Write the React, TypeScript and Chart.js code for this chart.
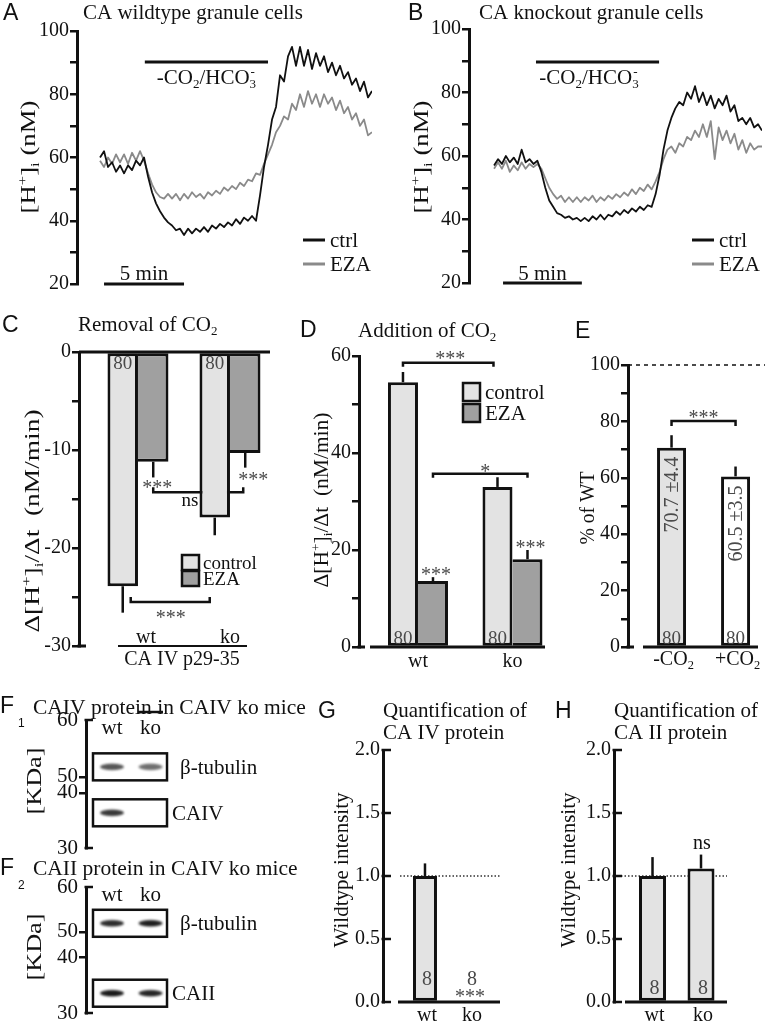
import React, { useEffect, useRef } from 'react';
import { Chart, registerables } from 'chart.js';

Chart.register(...registerables);

const W = 765;
const CH = 1060;
const SERIF = '"Liberation Serif", "Times New Roman", Times, serif';
const SANS = '"Liberation Sans", Arial, Helvetica, sans-serif';
const INK = '#111111';
const TRACE_GREY = '#8a8a8a';
const LIGHT = '#e3e3e3';
const MID = '#a0a0a0';
const NOTE = '#4a4a4a';

Chart.defaults.font.family = SERIF;

// ---------------- A / B : [H+]i recordings (minutes vs nM) ----------------
const traceTimes = [0, 0.25, 0.5, 0.75, 1, 1.25, 1.5, 1.75, 2, 2.25, 2.5, 2.75, 3, 3.25, 3.5, 3.75, 4, 4.25, 4.5, 4.75, 5, 5.25, 5.5, 5.75, 6, 6.25, 6.5, 6.75, 7, 7.25, 7.5, 7.75, 8, 8.25, 8.5, 8.75, 9, 9.25, 9.5, 9.75, 10, 10.25, 10.5, 10.75, 11, 11.25, 11.5, 11.75, 12, 12.25, 12.5, 12.75, 13, 13.25, 13.5, 13.75, 14, 14.25, 14.5, 14.75, 15, 15.25, 15.5, 15.75, 16, 16.25, 16.5, 16.75, 17];
const wtCtrl = [60, 62, 57, 58.5, 55.5, 57.5, 55, 57.5, 56, 59, 57.5, 60, 54, 49, 45.5, 43, 41, 39.5, 38.5, 37, 37.5, 35.5, 37.5, 36, 37.5, 36.5, 38, 36.5, 38.5, 37.5, 39, 38, 39.5, 38.5, 40.5, 39, 41, 40, 41.5, 40, 48, 57, 64, 72, 76, 86, 84, 92, 95, 89, 95, 89, 94, 88, 93, 89, 92, 87, 90, 86, 89, 85, 87, 83, 85, 81, 84, 79, 81];
const wtEza = [59, 57, 60, 58, 61, 58.5, 61, 58, 61.5, 59, 62, 59, 55, 51.5, 49, 47.5, 47, 48.5, 47, 48.5, 46.5, 48.5, 47, 49, 47.5, 48.5, 47, 49, 48, 49.5, 48.5, 50.5, 49.5, 51, 50, 52, 51, 53, 52.5, 55, 54.5, 58, 61, 64, 68, 70, 73, 72, 77, 75, 80, 76, 81, 77, 80, 76, 80, 77, 79, 75, 78, 74, 76, 72, 74, 70, 72, 67, 68];
const koCtrl = [57, 59, 57.5, 60, 58, 59.5, 57.5, 62, 58, 59, 57.5, 58.5, 55, 50, 46, 44, 42, 41.5, 40.5, 41, 40, 40.5, 39.5, 40.5, 39.5, 41, 40, 41.5, 40, 41.5, 41, 42.5, 41.5, 43, 42, 43.5, 42.5, 44, 43, 44.5, 44, 48, 54, 62, 68, 72, 75, 77, 76, 80, 78, 82, 77, 80, 76, 79, 75, 78, 76, 79, 74, 76, 71, 72, 70, 72, 69, 70, 68];
const koEza = [56, 58, 56, 58.5, 55, 57, 55.5, 58, 56, 57.5, 56.5, 57.5, 56, 53, 50, 48, 46.5, 47.5, 45.5, 47, 45.5, 47, 45.5, 47, 46, 47.5, 45.5, 47, 46, 47.5, 46.5, 48, 47, 48.5, 47.5, 49.5, 48, 50, 49, 51, 49.5, 52, 55, 59, 62, 63, 61, 64, 63, 66, 65, 68, 66, 70, 66, 71, 59, 69, 65, 68, 64, 67, 62, 65, 61, 64, 62, 63, 63];
const hLabelled = [20, 40, 60, 80, 100];
const washoutWt = [2.8, 10.5];
const washoutKo = [2.66, 10.47];
const scaleBarMinutes = 5;
const traceSeries = ['ctrl', 'EZA'];

// ---------------- C : removal of CO2 ----------------
const genotypes = ['wt', 'ko'];
const removalControl = [-23.9, -16.9];
const removalControlSem = [2.7, 1.8];
const removalEza = [-11.2, -10.3];
const removalEzaSem = [1.6, 1.5];
const removalN = [80, 80];
const removalLabelled = [0, -10, -20, -30];

// ---------------- D : addition of CO2 ----------------
const additionControl = [54.6, 33.0];
const additionControlSem = [2.1, 2.0];
const additionEza = [13.6, 18.1];
const additionEzaSem = [0.8, 1.9];
const additionN = [80, 80];
const additionLabelled = [0, 20, 40, 60];

// ---------------- E : % of WT ----------------
const co2Signs = ['-', '+'];
const koPercentWt = [70.7, 60.5];
const koPercentSem = [4.4, 3.5];
const koPercentN = [80, 80];
const percentLabelled = [0, 20, 40, 60, 80, 100];

// ---------------- F1 / F2 : western blots ----------------
const lanes = ['wt', 'ko'];
const kdaLadder = [60, 50, 40, 30];
const f1LadderPos = [0, 0.445, 0.57, 1];
const f2LadderPos = [0, 0.357, 0.556, 1];
const f1Bands = ['β-tubulin', 'CAIV'];
const f1BandPos = [0.366, 0.725];
const f1Tubulin = [0.72, 0.62];
const f1Caiv = [0.85, 0];
const f2Bands = ['β-tubulin', 'CAII'];
const f2BandPos = [0.288, 0.843];
const f2Tubulin = [0.9, 0.96];
const f2Caii = [0.98, 0.93];

// ---------------- G / H : quantification ----------------
const caivRel = [1.0, 0.0];
const caivSem = [0.1, 0];
const caiiRel = [1.0, 1.06];
const caiiSem = [0.15, 0.11];
const blotN = [8, 8];
const intensityLabelled = [0, 0.5, 1, 1.5, 2];

// ---------------- drawing helpers ----------------
type Part = [string, number];
const t = (s: string): Part[] => [[s, 0]];
const hTitle: Part[] = [['[H', 0], ['+', 1], [']', 0], ['i', -1], [' (nM)', 0]];
const dhTitle: Part[] = [['Δ[H', 0], ['+', 1], [']', 0], ['i', -1], ['/Δt  (nM/min)', 0]];
const co2Parts: Part[] = [['-CO', 0], ['2', -1], ['/HCO', 0], ['3', -1], ['-', 2]];

function rich(ctx: any, parts: Part[], x: number, y: number, size: number, o: any = {}) {
  const fam = o.family || SERIF;
  const small = size * 0.62;
  ctx.save();
  const widths = parts.map(([s, k]) => {
    ctx.font = `${k ? small : size}px ${fam}`;
    return k === 2 ? 0 : ctx.measureText(s).width;
  });
  const total = widths.reduce((a: number, b: number) => a + b, 0);
  ctx.translate(x, y);
  if (o.rot) ctx.rotate(-Math.PI / 2);
  const sx = o.target ? o.target / total : 1;
  ctx.scale(sx, 1);
  const align = o.align || 'center';
  let cx = align === 'center' ? -total / 2 : align === 'right' ? -total : 0;
  let prevX = cx;
  ctx.textAlign = 'left';
  ctx.textBaseline = 'alphabetic';
  ctx.fillStyle = o.color || INK;
  const base = size * 0.33;
  parts.forEach(([s, k], i) => {
    ctx.font = `${k ? small : size}px ${fam}`;
    if (k === 2) {
      ctx.fillText(s, prevX + 1, base - size * 0.42);
      return;
    }
    const dy = k === 1 ? -size * 0.4 : k === -1 ? size * 0.2 : 0;
    ctx.fillText(s, cx, base + dy);
    prevX = cx;
    cx += widths[i];
  });
  ctx.restore();
}

function stars(ctx: any, s: string, x: number, y: number) {
  rich(ctx, t(s), x, y + 4, 20, { color: NOTE });
}

function letter(ctx: any, s: string, x: number, baseline: number, sub?: string) {
  ctx.save();
  ctx.font = `23px ${SANS}`;
  ctx.fillStyle = INK;
  ctx.textAlign = 'left';
  ctx.textBaseline = 'alphabetic';
  ctx.fillText(s, x, baseline);
  if (sub) {
    ctx.font = `12px ${SANS}`;
    ctx.fillText(sub, x + 18, baseline + 14);
  }
  ctx.restore();
}

function seg(ctx: any, x1: number, y1: number, x2: number, y2: number, w = 2.5, color = INK, dash: number[] = []) {
  ctx.save();
  ctx.strokeStyle = color;
  ctx.lineWidth = w;
  ctx.setLineDash(dash);
  ctx.lineCap = 'butt';
  ctx.beginPath();
  ctx.moveTo(x1, y1);
  ctx.lineTo(x2, y2);
  ctx.stroke();
  ctx.restore();
}

function bracket(ctx: any, x1: number, x2: number, y: number, leg: number, w = 2.5) {
  ctx.save();
  ctx.strokeStyle = INK;
  ctx.lineWidth = w;
  ctx.beginPath();
  ctx.moveTo(x1, y + leg);
  ctx.lineTo(x1, y);
  ctx.lineTo(x2, y);
  ctx.lineTo(x2, y + leg);
  ctx.stroke();
  ctx.restore();
}

function box(ctx: any, x: number, y: number, w: number, h: number, fill: string | null, lw = 2.5) {
  ctx.save();
  if (fill) {
    ctx.fillStyle = fill;
    ctx.fillRect(x, y, w, h);
  }
  ctx.strokeStyle = INK;
  ctx.lineWidth = lw;
  ctx.strokeRect(x, y, w, h);
  ctx.restore();
}

function semBars(chart: any, di: number, sem: number[], w = 2.5) {
  const ys = chart.scales.y;
  const meta = chart.getDatasetMeta(di);
  const data = chart.data.datasets[di].data;
  meta.data.forEach((el: any, i: number) => {
    if (!sem[i]) return;
    const v = data[i].y;
    const tip = v + (v < 0 ? -sem[i] : sem[i]);
    seg(chart.ctx, el.x, ys.getPixelForValue(v), el.x, ys.getPixelForValue(tip), w);
  });
}

function base(l: number, top: number, r: number, b: number, yw: number) {
  return {
    responsive: false,
    maintainAspectRatio: false,
    animation: false,
    events: [],
    layout: { autoPadding: false, padding: { left: l - yw, top, right: W - r, bottom: CH - b } },
    plugins: { legend: { display: false }, tooltip: { enabled: false }, title: { display: false } },
  };
}

function valueAxis(o: any) {
  return {
    type: 'linear',
    min: o.min,
    max: o.max,
    border: { display: true, color: INK, width: 3 },
    grid: {
      display: true,
      drawOnChartArea: false,
      drawTicks: true,
      tickLength: o.tickLen ?? 7,
      color: o.inward ? 'rgba(0,0,0,0)' : INK,
      lineWidth: 2.5,
    },
    ticks: {
      stepSize: o.step,
      autoSkip: false,
      padding: 1,
      color: INK,
      font: { family: SERIF, size: o.size ?? 20 },
      callback: (v: number) =>
        o.labelled.some((l: number) => Math.abs(l - v) < 1e-6) ? (o.fmt ? o.fmt(v) : String(v)) : '',
    },
    afterFit: (s: any) => {
      s.width = o.yw;
    },
  };
}

function indexAxis(min: number, max: number, n: number) {
  return {
    type: 'linear',
    display: false,
    offset: false,
    grid: { offset: false },
    min,
    max,
    afterBuildTicks: (s: any) => {
      s.ticks = Array.from({ length: n }, (_, i) => ({ value: i }));
    },
  };
}

function barSet(label: string, values: number[], fill: any, catPct: number, leftBorder = true) {
  return {
    label,
    data: values.map((v, i) => ({ x: i, y: v })),
    backgroundColor: fill,
    borderColor: INK,
    borderWidth: { top: 3, right: 3, bottom: 3, left: leftBorder ? 3 : 0 },
    borderSkipped: false,
    barPercentage: 1,
    categoryPercentage: catPct,
  };
}

// ---------------- A / B ----------------
function traceConfig(p: any) {
  const YW = 60;
  return {
    type: 'line',
    data: {
      datasets: [p.ctrl, p.eza].map((vals: number[], k: number) => ({
        label: traceSeries[k],
        data: traceTimes.map((tm, i) => ({ x: tm, y: vals[i] })),
        borderColor: k === 0 ? INK : TRACE_GREY,
        borderWidth: 1.8,
        borderJoinStyle: 'round',
        pointRadius: 0,
        tension: 0,
        fill: false,
      })),
    },
    options: {
      ...base(p.L, p.T, p.R, p.B, YW),
      scales: {
        x: { type: 'linear', display: false, min: p.xmin, max: 17 },
        y: valueAxis({ min: 20, max: 100, step: 10, labelled: hLabelled, yw: YW, tickLen: 7 }),
      },
    },
    plugins: [
      {
        id: 'trace' + p.letter,
        afterDraw(chart: any) {
          const { ctx } = chart;
          const x = chart.scales.x;
          letter(ctx, p.letter, p.letterX, 20);
          rich(ctx, t(p.title), p.titleX, 12, 21, { align: 'left' });
          rich(ctx, hTitle, p.yTitleX, 157, 20, { rot: true, target: 113 });
          const w0 = x.getPixelForValue(p.washout[0]);
          const w1 = x.getPixelForValue(p.washout[1]);
          seg(ctx, w0, 62, w1, 62, 3);
          rich(ctx, co2Parts, p.co2X ?? (w0 + w1) / 2, 77, 21);
          const s0 = x.getPixelForValue(p.scaleStart);
          const s1 = x.getPixelForValue(p.scaleStart + scaleBarMinutes);
          const yb = chart.chartArea.bottom;
          seg(ctx, s0, yb, s1, yb, 3);
          rich(ctx, t(`${scaleBarMinutes} min`), (s0 + s1) / 2, 273, 21);
          chart.data.datasets.forEach((ds: any, i: number) => {
            const ly = 240 + i * 24;
            seg(ctx, p.legendX, ly, p.legendX + 22, ly, 3, ds.borderColor);
            rich(ctx, t(ds.label), p.legendX + 27, ly, 21, { align: 'left' });
          });
        },
      },
    ],
  };
}

const configA = () =>
  traceConfig({
    letter: 'A', letterX: 3, title: 'CA wildtype granule cells', titleX: 83, yTitleX: 28,
    L: 77, T: 31, R: 372, B: 284, xmin: -1.44, ctrl: wtCtrl, eza: wtEza,
    washout: washoutWt, scaleStart: 0.25, legendX: 303,
  });
const configB = () =>
  traceConfig({
    letter: 'B', letterX: 408, title: 'CA knockout granule cells', titleX: 479, yTitleX: 421,
    L: 469, T: 29, R: 762, B: 283, xmin: -1.59, ctrl: koCtrl, eza: koEza,
    washout: washoutKo, co2X: 589, scaleStart: 0.57, legendX: 692,
  });

// ---------------- C ----------------
function configC() {
  const L = 79, T = 352, R = 270, B = 646, YW = 60;
  return {
    type: 'bar',
    data: {
      datasets: [
        barSet('control', removalControl, LIGHT, 0.663),
        barSet('EZA', removalEza, MID, 0.663, false),
      ],
    },
    options: {
      ...base(L, T, R, B, YW),
      scales: {
        x: indexAxis(-0.641, 1.435, genotypes.length),
        y: valueAxis({ min: -30, max: 0, step: 5, labelled: removalLabelled, yw: YW }),
      },
    },
    plugins: [
      {
        id: 'decorC',
        beforeDatasetsDraw(chart: any) {
          const { ctx } = chart;
          const y = chart.scales.y;
          const eza = chart.getDatasetMeta(1).data;
          bracket(ctx, eza[0].x, eza[1].x - 2, y.getPixelForValue(-14.3), -5);
        },
        afterDatasetsDraw(chart: any) {
          const { ctx, chartArea: a } = chart;
          const x = chart.scales.x;
          const y = chart.scales.y;
          semBars(chart, 0, removalControlSem);
          semBars(chart, 1, removalEzaSem);
          const y0 = y.getPixelForValue(0);
          seg(ctx, a.left, y0, a.right, y0, 3);
          seg(ctx, a.left - 1.5, a.bottom, a.left + 7, a.bottom, 3);
          const ctl = chart.getDatasetMeta(0).data;
          const eza = chart.getDatasetMeta(1).data;
          ctl.forEach((b: any, i: number) => rich(ctx, t(String(removalN[i])), b.x, y0 + 11, 19, { color: NOTE }));
          stars(ctx, '***', eza[0].x + 4, 483);
          stars(ctx, '***', eza[1].x + 8, 475);
          rich(ctx, t('ns'), 190, 500, 19);
          bracket(ctx, ctl[0].x + 8, ctl[1].x - 5, 602, -5);
          stars(ctx, '***', (ctl[0].x + ctl[1].x) / 2 + 2, 613);
          chart.data.datasets.forEach((ds: any, i: number) => {
            const ly = 555 + i * 16;
            box(ctx, 182, ly, 17, 15, ds.backgroundColor);
            rich(ctx, t(ds.label), 203, ly + 8, 19, { align: 'left' });
          });
          genotypes.forEach((g, i) => rich(ctx, t(g), x.getPixelForValue(i) + (i === 0 ? 8 : 0), 636, 20));
          seg(ctx, 118, 646, 247, 646, 2);
          rich(ctx, t('CA IV p29-35'), 182, 658, 20);
          letter(ctx, 'C', 2, 332);
          rich(ctx, [['Removal of CO', 0], ['2', -1]], 78, 324, 21, { align: 'left' });
          rich(ctx, dhTitle, 32, 521, 20, { rot: true, target: 223 });
        },
      },
    ],
  };
}

// ---------------- D ----------------
function configD() {
  const L = 359, T = 356, R = 545, B = 647, YW = 60;
  return {
    type: 'bar',
    data: {
      datasets: [
        barSet('control', additionControl, LIGHT, 0.635),
        barSet('EZA', additionEza, MID, 0.635, false),
      ],
    },
    options: {
      ...base(L, T, R, B, YW),
      scales: {
        x: indexAxis(-0.624, 1.344, genotypes.length),
        y: valueAxis({ min: 0, max: 60, step: 10, labelled: additionLabelled, yw: YW }),
      },
    },
    plugins: [
      {
        id: 'decorD',
        afterDatasetsDraw(chart: any) {
          const { ctx, chartArea: a } = chart;
          const x = chart.scales.x;
          const y = chart.scales.y;
          semBars(chart, 0, additionControlSem);
          semBars(chart, 1, additionEzaSem);
          const y0 = y.getPixelForValue(0);
          seg(ctx, 370, y0, a.right, y0, 3);
          seg(ctx, a.left - 1.5, y0, a.left + 6, y0, 3);
          const ctl = chart.getDatasetMeta(0).data;
          const eza = chart.getDatasetMeta(1).data;
          bracket(ctx, ctl[0].x, ctl[1].x - 4, y.getPixelForValue(58.6), 4);
          stars(ctx, '***', (ctl[0].x + ctl[1].x) / 2, 354);
          bracket(ctx, eza[0].x, eza[1].x, y.getPixelForValue(35.7), 4);
          stars(ctx, '*', (eza[0].x + eza[1].x) / 2 + 5, 467);
          eza.forEach((b: any, i: number) =>
            stars(ctx, '***', b.x + 3, y.getPixelForValue(additionEza[i] + additionEzaSem[i]) - 7)
          );
          ctl.forEach((b: any, i: number) => rich(ctx, t(String(additionN[i])), b.x, y0 - 9, 19, { color: NOTE }));
          chart.data.datasets.forEach((ds: any, i: number) => {
            const ly = 383 + i * 21;
            box(ctx, 463, ly, 17, 18, ds.backgroundColor);
            rich(ctx, t(ds.label), 485, ly + 9, 21, { align: 'left' });
          });
          genotypes.forEach((g, i) => rich(ctx, t(g), x.getPixelForValue(i), 660, 20));
          letter(ctx, 'D', 300, 337);
          rich(ctx, [['Addition of CO', 0], ['2', -1]], 358, 330, 21, { align: 'left' });
          rich(ctx, dhTitle, 321, 500, 20, { rot: true, target: 175 });
        },
      },
    ],
  };
}

// ---------------- E ----------------
function configE() {
  const L = 628, T = 365, R = 765, B = 647, YW = 60;
  return {
    type: 'bar',
    data: { datasets: [barSet('% of WT', koPercentWt, [LIGHT, '#ffffff'], 0.453)] },
    options: {
      ...base(L, T, R, B, YW),
      scales: {
        x: indexAxis(-0.68, 1.46, co2Signs.length),
        y: valueAxis({ min: 0, max: 100, step: 10, labelled: percentLabelled, yw: YW }),
      },
    },
    plugins: [
      {
        id: 'decorE',
        afterDatasetsDraw(chart: any) {
          const { ctx, chartArea: a } = chart;
          const y = chart.scales.y;
          seg(ctx, a.left, y.getPixelForValue(100), W, y.getPixelForValue(100), 1.5, INK, [4, 4]);
          semBars(chart, 0, koPercentSem);
          const y0 = y.getPixelForValue(0);
          seg(ctx, 643, y0, 758, y0, 3);
          seg(ctx, a.left - 1.5, y0, a.left + 6, y0, 3);
          const bars = chart.getDatasetMeta(0).data;
          bracket(ctx, bars[0].x, bars[1].x, y.getPixelForValue(80.1), 5);
          stars(ctx, '***', (bars[0].x + bars[1].x) / 2, 413);
          bars.forEach((b: any, i: number) => {
            rich(ctx, t(`${koPercentWt[i]} ±${koPercentSem[i]}`), b.x, b.y + 47, 20, { rot: true, color: NOTE });
            rich(ctx, t(String(koPercentN[i])), b.x, y0 - 9, 19, { color: NOTE });
            rich(ctx, [[co2Signs[i] + 'CO', 0], ['2', -1]], b.x + 2, 658, 20);
          });
          letter(ctx, 'E', 575, 338);
          rich(ctx, t('% of WT'), 587, 508, 20, { rot: true, target: 73 });
        },
      },
    ],
  };
}

// ---------------- F1 / F2 ----------------
function bandSprite(density: number) {
  const c = document.createElement('canvas');
  c.width = 36;
  c.height = 18;
  const g = c.getContext('2d') as CanvasRenderingContext2D;
  if (density > 0) {
    g.filter = 'blur(1.3px)';
    g.fillStyle = `rgba(22,22,22,${density})`;
    g.beginPath();
    g.ellipse(18, 9, 12, 3.3, 0, 0, Math.PI * 2);
    g.fill();
  }
  return c;
}

function configF(which: number) {
  const one = which === 1;
  const T = one ? 720 : 887;
  const B = one ? 848 : 1013;
  const L = 86, R = 170, YW = 50;
  const ladder = one ? f1LadderPos : f2LadderPos;
  const bandPos = one ? f1BandPos : f2BandPos;
  const names = one ? f1Bands : f2Bands;
  const rows = one ? [f1Tubulin, f1Caiv] : [f2Tubulin, f2Caii];
  return {
    type: 'scatter',
    data: {
      datasets: rows.map((dens, k) => ({
        label: names[k],
        data: lanes.map((_, i) => ({ x: i, y: bandPos[k] })),
        pointStyle: dens.map((d) => bandSprite(d)),
        pointRadius: 4,
        showLine: false,
      })),
    },
    options: {
      ...base(L, T, R, B, YW),
      scales: {
        x: indexAxis(-0.675, 1.506, lanes.length),
        y: {
          type: 'linear',
          reverse: true,
          min: 0,
          max: 1,
          border: { display: true, color: INK, width: 3 },
          grid: {
            display: true,
            drawOnChartArea: false,
            drawTicks: true,
            tickLength: 7,
            lineWidth: 2.5,
            color: (c: any) => (c.index === 0 || c.index === kdaLadder.length - 1 ? 'rgba(0,0,0,0)' : INK),
          },
          afterBuildTicks: (s: any) => {
            s.ticks = ladder.map((v) => ({ value: v }));
          },
          ticks: {
            autoSkip: false,
            padding: 1,
            color: INK,
            font: { family: SERIF, size: 21 },
            callback: (_v: number, i: number) => String(kdaLadder[i]),
          },
          afterFit: (s: any) => {
            s.width = YW;
          },
        },
      },
    },
    plugins: [
      {
        id: 'decorF' + which,
        afterDraw(chart: any) {
          const { ctx, chartArea: a } = chart;
          const x = chart.scales.x;
          const y = chart.scales.y;
          const xw = x.getPixelForValue(0);
          const xk = x.getPixelForValue(1);
          bandPos.forEach((p, k) => {
            const yc = y.getPixelForValue(p);
            box(ctx, xw - 19, yc - 13.5, xk + 16.5 - (xw - 19), 27, null, 2.5);
            rich(ctx, t(names[k]), k === 0 ? 180 : 172, yc, 21, { align: 'left' });
          });
          lanes.forEach((ln, i) => rich(ctx, t(ln), x.getPixelForValue(i), a.top + 7, 21));
          seg(ctx, a.left - 1.5, a.top, a.left + 7, a.top, 2.5);
          seg(ctx, a.left - 1.5, a.bottom, a.left + 7, a.bottom, 2.5);
          letter(ctx, 'F', 0, one ? 713 : 875, one ? '1' : '2');
          rich(ctx, t(one ? 'CAIV protein in CAIV ko mice' : 'CAII protein in CAIV ko mice'), 33, one ? 707 : 868, 21.5, { align: 'left' });
          if (one) seg(ctx, 138, 712, 163, 712, 2.5);
          rich(ctx, t('[KDa]'), 34, (a.top + a.bottom) / 2 - 3, 20, { rot: true, target: 67 });
        },
      },
    ],
  };
}

// ---------------- G / H ----------------
function quantConfig(p: any) {
  const YW = 60;
  return {
    type: 'bar',
    data: { datasets: [barSet('Wildtype intensity', p.values, LIGHT, p.catPct)] },
    options: {
      ...base(p.L, 750, p.R, 1002, YW),
      scales: {
        x: indexAxis(p.xmin, p.xmax, lanes.length),
        y: valueAxis({
          min: 0, max: 2, step: 0.5, labelled: intensityLabelled, yw: YW, tickLen: 2, inward: true,
          fmt: (v: number) => v.toFixed(1),
        }),
      },
    },
    plugins: [
      {
        id: 'quant' + p.letter,
        beforeDatasetsDraw(chart: any) {
          const { ctx } = chart;
          const y = chart.scales.y;
          seg(ctx, p.dotFrom, y.getPixelForValue(1), p.R, y.getPixelForValue(1), 1.5, '#333', [1.5, 2]);
        },
        afterDatasetsDraw(chart: any) {
          const { ctx, chartArea: a } = chart;
          const y = chart.scales.y;
          semBars(chart, 0, p.sem);
          const y0 = y.getPixelForValue(0);
          seg(ctx, p.baseFrom, y0, p.R, y0, 3);
          y.ticks.forEach((tk: any) => {
            const yy = y.getPixelForValue(tk.value);
            seg(ctx, a.left - 1.5, yy, a.left + 8, yy, 2.5);
          });
          const bars = chart.getDatasetMeta(0).data;
          bars.forEach((b: any, i: number) => {
            rich(ctx, t(String(blotN[i])), b.x + 2, y0 - p.nOffset, 20, { color: NOTE });
            rich(ctx, t(lanes[i]), b.x + 2, 1014, 20);
          });
          p.extra(ctx, bars, y);
          letter(ctx, p.letter, p.letterX, 718);
          rich(ctx, t('Quantification of'), p.L, 710, 21, { align: 'left' });
          rich(ctx, t(p.protein), p.L, 732, 21, { align: 'left' });
          rich(ctx, t('Wildtype intensity'), p.yTitleX, 870, 21, { rot: true, target: 155 });
        },
      },
    ],
  };
}

const configG = () =>
  quantConfig({
    letter: 'G', letterX: 318, protein: 'CA IV protein', L: 383, R: 500, xmin: -0.933, xmax: 1.667,
    catPct: 0.533, values: caivRel, sem: caivSem, dotFrom: 400, baseFrom: 398, nOffset: 24, yTitleX: 341,
    extra: (ctx: any, bars: any[]) => {
      stars(ctx, '***', bars[1].x, 992);
    },
  });
const configH = () =>
  quantConfig({
    letter: 'H', letterX: 555, protein: 'CA II protein', L: 614, R: 727, xmin: -0.794, xmax: 1.536,
    catPct: 0.557, values: caiiRel, sem: caiiSem, dotFrom: 614, baseFrom: 625, nOffset: 15, yTitleX: 568,
    extra: (ctx: any, bars: any[], y: any) => {
      rich(ctx, t('ns'), bars[1].x + 1, y.getPixelForValue(caiiRel[1] + caiiSem[1]) - 12, 20);
    },
  });

const PANELS = ['A', 'B', 'C', 'D', 'E', 'F1', 'F2', 'G', 'H'];
const BUILDERS = [configA, configB, configC, configD, configE, () => configF(1), () => configF(2), configG, configH];

export default function App() {
  const refs = useRef<Array<HTMLCanvasElement | null>>([]);
  useEffect(() => {
    const charts = BUILDERS.map((b, i) => new Chart(refs.current[i] as HTMLCanvasElement, b() as any));
    return () => charts.forEach((c) => c.destroy());
  }, []);
  return (
    <div style={{ position: 'fixed', left: 0, top: 0, width: W, height: 1023, overflow: 'hidden', background: '#ffffff' }}>
      {PANELS.map((p, i) => (
        <canvas
          key={p}
          ref={(el) => {
            refs.current[i] = el;
          }}
          width={W}
          height={CH}
          style={{ position: 'absolute', left: 0, top: 0, width: W, height: CH }}
        />
      ))}
    </div>
  );
}
